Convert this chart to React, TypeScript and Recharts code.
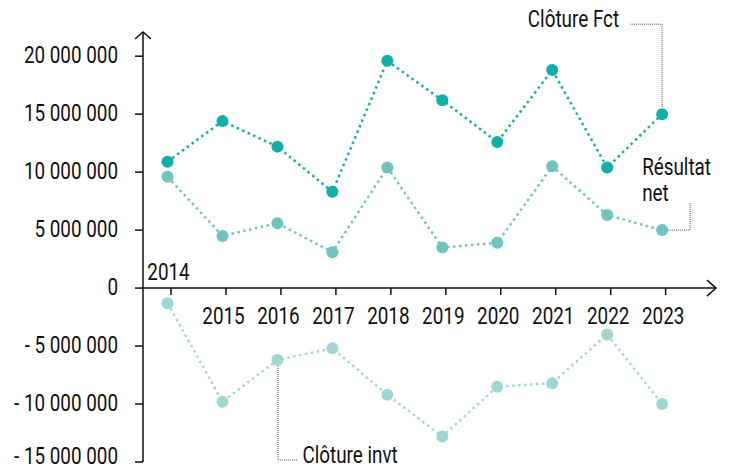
import React from "react";
import {
  LineChart,
  Line,
  XAxis,
  YAxis,
  ReferenceLine,
  ReferenceDot,
} from "recharts";

const years = [2014, 2015, 2016, 2017, 2018, 2019, 2020, 2021, 2022, 2023];
const clotureFct = [10.9, 14.4, 12.2, 8.3, 19.6, 16.2, 12.6, 18.8, 10.4, 15.0];
const resultatNet = [9.6, 4.5, 5.6, 3.1, 10.4, 3.5, 3.9, 10.5, 6.3, 5.0];
const clotureInvt = [-1.3, -9.8, -6.2, -5.2, -9.2, -12.8, -8.5, -8.2, -4.0, -10.0];
const yTicks = [-15000000, -10000000, -5000000, 0, 5000000, 10000000, 15000000, 20000000];

const M = 1000000;
const data = years.map((y, i) => ({
  year: y,
  fct: clotureFct[i] * M,
  net: resultatNet[i] * M,
  invt: clotureInvt[i] * M,
}));

const X_MIN = 2013.554;
const X_MAX = 2023.98;
const Y_MIN = -15000000;
const Y_MAX = 22000000;

const FONT = "Roboto, 'Noto Sans', sans-serif";
const FS = 23;
const SX = 0.82;

const C_FCT = "#12aea8";
const C_NET = "#6fc4bf";
const C_INVT = "#a0d6d2";

const fmt = (v: number) => {
  const s = Math.abs(v)
    .toString()
    .replace(/\B(?=(\d{3})+(?!\d))/g, "\u00a0");
  return v < 0 ? "-\u00a0" + s : s;
};

const T = ({ x, y, anchor = "start", children }: any) => (
  <g transform={`translate(${x},${y}) scale(${SX},1)`}>
    <text
      x={0}
      y={0}
      textAnchor={anchor}
      fontFamily={FONT}
      fontSize={FS}
      fill="#111"
      style={{ whiteSpace: "pre" }}
    >
      {children}
    </text>
  </g>
);

const YTick = (props: any) => {
  const { x, y, payload } = props;
  const isBottom = payload.value === Y_MIN;
  return (
    <T x={x - 15} y={y + (isBottom ? 2 : 6.5)} anchor="end">
      {fmt(payload.value)}
    </T>
  );
};

const makeYearTick = (year: number) => (p: any) => {
  const { cx, cy } = p;
  const above = year === 2014;
  return (
    <g>
      <line x1={cx + 3.5} y1={cy} x2={cx + 3.5} y2={cy + 7} stroke="#111" strokeWidth={1.5} />
      <T x={cx + 1} y={above ? cy - 8 : cy + 36} anchor="middle">
        {year}
      </T>
    </g>
  );
};

const xArrow = (p: any) => {
  const { cx, cy } = p;
  return (
    <polyline
      points={`${cx - 9},${cy - 8} ${cx},${cy} ${cx - 9},${cy + 8}`}
      fill="none"
      stroke="#111"
      strokeWidth={1.5}
    />
  );
};

const yArrow = (p: any) => {
  const { cx, cy } = p;
  return (
    <polyline
      points={`${cx - 8},${cy + 6} ${cx},${cy - 1} ${cx + 8},${cy + 6}`}
      fill="none"
      stroke="#111"
      strokeWidth={1.5}
    />
  );
};

const leader = { stroke: "#555", strokeWidth: 1, strokeDasharray: "1 1", fill: "none" };

const fctLabel = (p: any) => {
  const { cx, cy } = p;
  return (
    <g>
      <polyline points={`${cx - 32},${cy - 90} ${cx},${cy - 90} ${cx},${cy - 6}`} {...leader} />
      <T x={cx - 43} y={cy - 87} anchor="end">
        Clôture Fct
      </T>
    </g>
  );
};

const netLabel = (p: any) => {
  const { cx, cy } = p;
  return (
    <g>
      <polyline points={`${cx + 6},${cy} ${cx + 28},${cy} ${cx + 28},${cy - 28}`} {...leader} />
      <T x={cx - 20} y={cy - 55}>
        Résultat
      </T>
      <T x={cx - 20} y={cy - 29}>
        net
      </T>
    </g>
  );
};

const invtLabel = (p: any) => {
  const { cx, cy } = p;
  return (
    <g>
      <polyline points={`${cx + 0.5},${cy + 6} ${cx + 0.5},${cy + 100} ${cx + 20},${cy + 100}`} {...leader} />
      <T x={cx + 25} y={cy + 103}>
        Clôture invt
      </T>
    </g>
  );
};

const dotStyle = (c: string) => ({ r: 6, fill: c, stroke: "none" });

export default function App() {
  const last = data[data.length - 1];
  const y2016 = data[2];
  return (
    <div style={{ position: "fixed", left: 0, top: 0, background: "#fff" }}>
      <LineChart
        width={729}
        height={470}
        data={data}
        margin={{ top: 33, right: 13, bottom: 8, left: 0 }}
      >
        <XAxis
          dataKey="year"
          type="number"
          domain={[X_MIN, X_MAX]}
          allowDataOverflow
          hide
        />
        <YAxis
          type="number"
          domain={[Y_MIN, Y_MAX]}
          ticks={yTicks}
          width={143}
          axisLine={{ stroke: "#111", strokeWidth: 1.5 }}
          tickLine={{ stroke: "#111", strokeWidth: 1.5 }}
          tickSize={8}
          tick={<YTick />}
          interval={0}
          allowDataOverflow
        />
        <ReferenceLine y={0} stroke="#111" strokeWidth={1.5} ifOverflow="visible" />
        {years.map((y) => (
          <ReferenceDot
            key={y}
            x={y}
            y={0}
            r={0}
            ifOverflow="visible"
            shape={makeYearTick(y)}
          />
        ))}
        <ReferenceDot x={X_MAX} y={0} r={0} ifOverflow="visible" shape={xArrow} />
        <ReferenceDot x={X_MIN} y={Y_MAX} r={0} ifOverflow="visible" shape={yArrow} />
        <Line
          dataKey="invt"
          stroke={C_INVT}
          strokeWidth={2.5}
          strokeDasharray="2.5 3.5"
          dot={dotStyle(C_INVT)}
          isAnimationActive={false}
        />
        <Line
          dataKey="net"
          stroke={C_NET}
          strokeWidth={2.5}
          strokeDasharray="2.5 3.5"
          dot={dotStyle(C_NET)}
          isAnimationActive={false}
        />
        <Line
          dataKey="fct"
          stroke={C_FCT}
          strokeWidth={2.5}
          strokeDasharray="2.5 3.5"
          dot={dotStyle(C_FCT)}
          isAnimationActive={false}
        />
        <ReferenceDot x={last.year} y={last.fct} r={0} ifOverflow="visible" shape={fctLabel} />
        <ReferenceDot x={last.year} y={last.net} r={0} ifOverflow="visible" shape={netLabel} />
        <ReferenceDot x={y2016.year} y={y2016.invt} r={0} ifOverflow="visible" shape={invtLabel} />
      </LineChart>
    </div>
  );
}
